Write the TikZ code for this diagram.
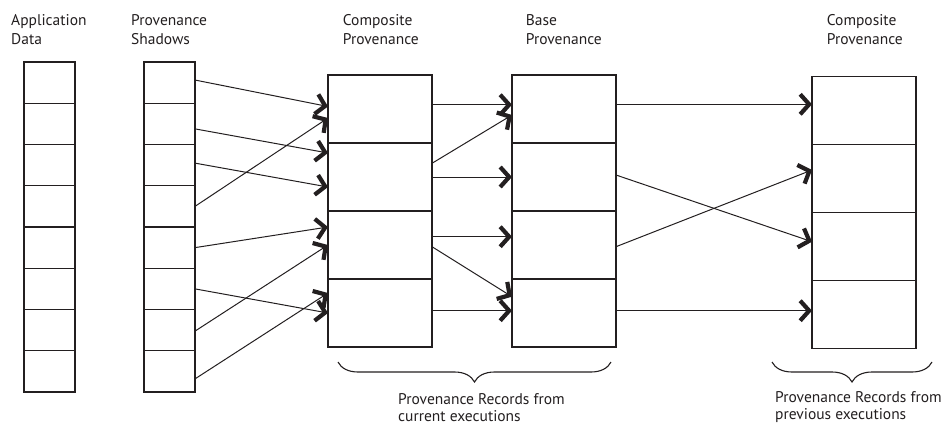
\documentclass[tikz,border=0pt]{standalone}
\usepackage{fontspec}
\setmainfont{PT Sans}
\usetikzlibrary{arrows.meta,calc,decorations.pathreplacing}
\definecolor{ink}{RGB}{35,31,32}
\tikzset{
  cell/.style={draw=ink, line width=1.2pt, inner sep=0pt, outer sep=0pt},
  slot/.style={cell, minimum width=51pt, minimum height=41.25pt},
  record/.style={cell, minimum width=104pt, minimum height=68pt},
  link/.style={draw=ink, line width=1pt, -{Straight Barb[length=9pt,width=20pt,line width=4.2pt]}},
  heading/.style={anchor=north west, inner sep=0pt, align=left, text=ink,
    font=\fontsize{15.5}{19.5}\selectfont},
  caption/.style={heading, font=\fontsize{15.5}{17.5}\selectfont},
  curly/.style={draw=ink, line width=1.1pt, decorate, decoration={brace, mirror, amplitude=20pt}}
}

\begin{document}
\begin{tikzpicture}[x=1pt, y=-1pt]
        \useasboundingbox (0,0) rectangle (945,426);
        % Column headings
        \node [heading] (apphead) at (11,14) {Application\\Data};
        \node [heading] (shadowhead) at (131,14) {Provenance\\Shadows};
        \node [heading] (comphead) at (342.7,14) {Composite\\Provenance};
        \node [heading] (basehead) at (525.7,14) {Base\\Provenance};
        \node [heading] (prevhead) at (826.7,14) {Composite\\Provenance};
        % Application data and provenance shadows
        \foreach \i in {1,...,8} {
                \node [slot] (app\i) at (49.5, {62+41.25*(\i-0.5)}) {};
                \node [slot] (sh\i) at (169.5, {62+41.25*(\i-0.5)}) {};
        }
        % Provenance records
        \foreach \i in {1,...,4} {
                \node [record] (cp\i) at (380, {75+68*(\i-0.5)}) {};
                \node [record] (bp\i) at (564, {75+68*(\i-0.5)}) {};
                \node [record] (pp\i) at (864, {76.5+68*(\i-0.5)}) {};
        }
        % Links between the records
        \foreach \s/\a/\t/\b in {sh1/-2.6/cp1/-2.5, sh2/5/cp2/-24, sh3/-2/cp2/10,
                sh4/0/cp1/9, sh5/0/cp3/-18, sh6/0/cp4/0, sh7/1/cp3/0, sh8/7.5/cp4/-20,
                cp1/-4.3/bp1/-4.3, cp2/-13.7/bp1/6, cp2/0/bp2/0, cp3/-8.3/bp3/-8.3,
                cp3/1.7/bp4/-16.3, cp4/-2.3/bp4/-2.3,
                bp1/-4.7/pp1/-6.2, bp2/-2/pp3/-4.8, bp3/1.7/pp2/-8.5, bp4/-2.3/pp4/-3.8}
                \draw [link] ($(\s.east)+(0,\a)$) -- ($(\t.west)+(0,\b)$);
        % Braces and their labels
        \draw [curly] (338,362) -- (611,362);
        \draw [curly] (772,362) -- (932,362);
        \node [caption] (curlabel) at (398,393) {Provenance Records from\\current executions};
        \node [caption] (prevlabel) at (775,391) {Provenance Records from\\previous executions};
\end{tikzpicture}
\end{document}
